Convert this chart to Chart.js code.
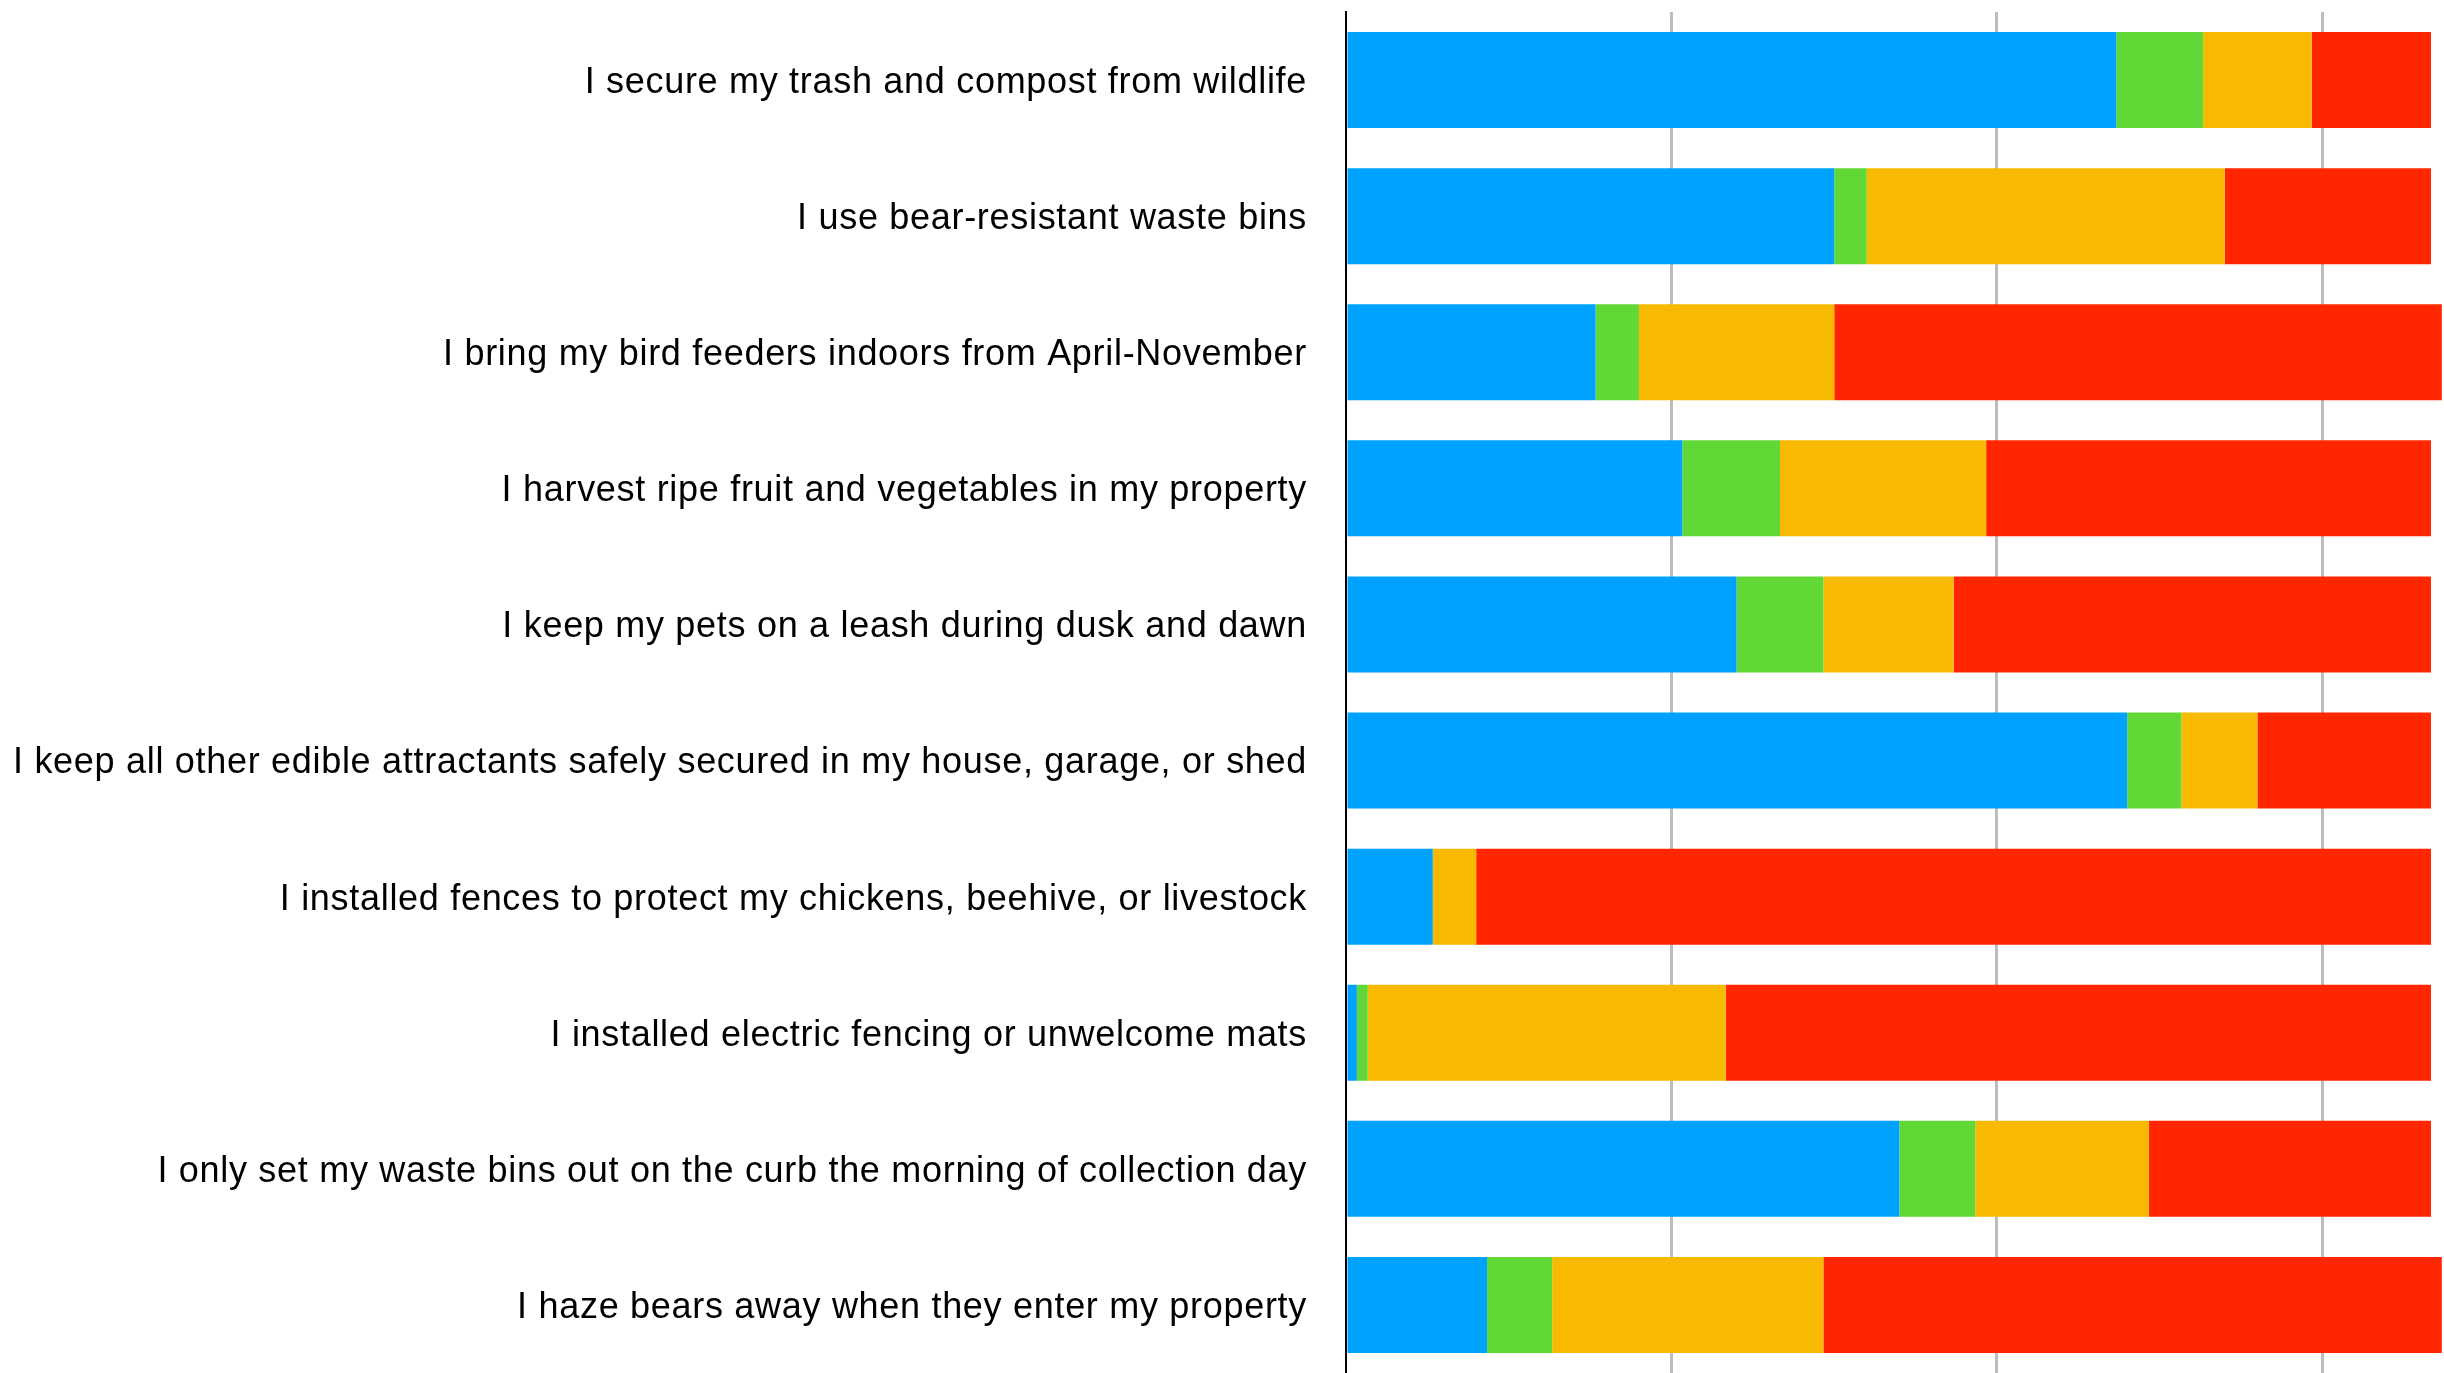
<!DOCTYPE html>
<html>
<head>
<meta charset="utf-8">
<title>Wildlife-safe household practices</title>
<script src="https://cdn.jsdelivr.net/npm/chart.js@4/dist/chart.umd.min.js"></script>
<style>
  html, body { margin: 0; padding: 0; background: #ffffff; overflow: hidden; }
  #wrap { width: 2444px; height: 1373px; position: relative; }
  canvas { display: block; }
</style>
</head>
<body>
<div id="wrap"><canvas id="chart" width="2444" height="1373"></canvas></div>
<script>
// Survey statements, top to bottom
const statements = [
  'I secure my trash and compost from wildlife',
  'I use bear-resistant waste bins',
  'I bring my bird feeders indoors from April-November',
  'I harvest ripe fruit and vegetables in my property',
  'I keep my pets on a leash during dusk and dawn',
  'I keep all other edible attractants safely secured in my house, garage, or shed',
  'I installed fences to protect my chickens, beehive, or livestock',
  'I installed electric fencing or unwelcome mats',
  'I only set my waste bins out on the curb the morning of collection day',
  'I haze bears away when they enter my property'
];

// Share of respondents (%) in each response group, stacked left to right
const blueShare   = [71, 45, 23, 31, 36, 72,  8,  1, 51, 13];
const greenShare  = [ 8,  3,  4,  9,  8,  5,  0,  1,  7,  6];
const yellowShare = [10, 33, 18, 19, 12,  7,  4, 33, 16, 25];
const redShare    = [11, 19, 56, 41, 44, 16, 88, 65, 26, 57];

// Value axis: gridlines every 30 %, axis runs a little past 100 %
const gridStep = 30;
const axisMax = 101.2;

const palette = ['#00A2FF', '#61D836', '#F8BA00', '#FF2600'];
const seriesValues = [blueShare, greenShare, yellowShare, redShare];

Chart.defaults.font.family = '"Liberation Sans", Arial, Helvetica, sans-serif';

// Slightly open letter spacing for the statement labels
const labelSpacing = {
  id: 'labelSpacing',
  beforeDraw(chart) { chart.ctx.letterSpacing = '0.7px'; }
};

new Chart(document.getElementById('chart'), {
  type: 'bar',
  plugins: [labelSpacing],
  data: {
    labels: statements,
    datasets: seriesValues.map((vals, i) => ({
      data: vals,
      backgroundColor: palette[i],
      borderWidth: 0,
      barPercentage: 0.705,
      categoryPercentage: 1.0
    }))
  },
  options: {
    indexAxis: 'y',
    responsive: false,
    animation: false,
    devicePixelRatio: 1,
    layout: { padding: { top: 12, right: 0, bottom: 0, left: 0 } },
    plugins: {
      legend: { display: false },
      tooltip: { enabled: false }
    },
    scales: {
      x: {
        stacked: true,
        min: 0,
        max: axisMax,
        afterFit: (scale) => {
          scale.height = 0;
          scale.paddingLeft = 0;
          scale.paddingRight = 0;
        },
        ticks: { display: false, stepSize: gridStep, includeBounds: false },
        grid: {
          drawTicks: false,
          lineWidth: 3,
          color: (c) => (c.tick && c.tick.value > 0 && c.tick.value < axisMax) ? '#bdbdbd' : 'rgba(0,0,0,0)'
        },
        border: { display: false }
      },
      y: {
        stacked: true,
        afterFit: (scale) => {
          scale.width = 1346;
          scale.paddingTop = 0;
          scale.paddingBottom = 0;
        },
        ticks: {
          color: '#000000',
          font: { size: 36 },
          padding: 39,
          labelOffset: 3
        },
        grid: { display: false, drawTicks: false },
        border: { display: true, color: '#000000', width: 2 }
      }
    }
  }
});
</script>
</body>
</html>
